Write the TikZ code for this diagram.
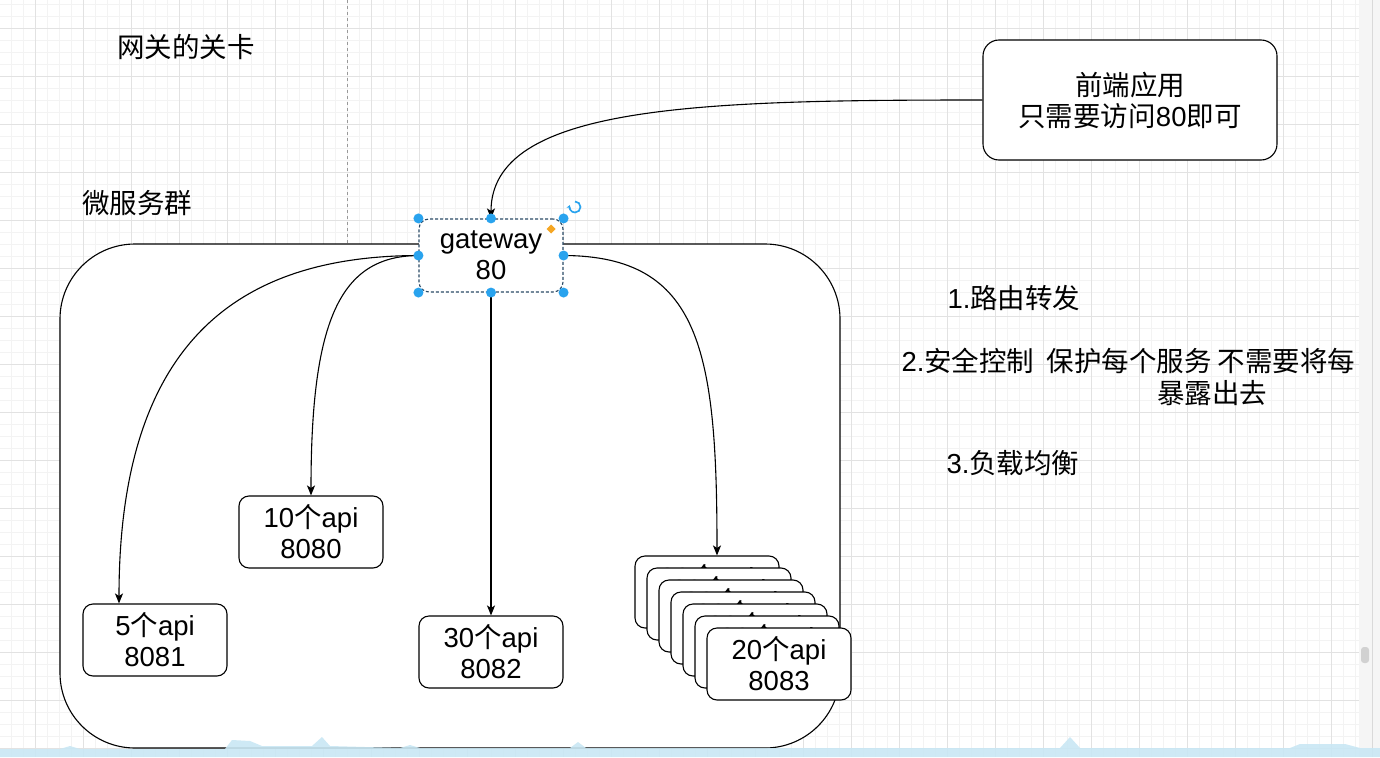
\documentclass[tikz,border=0pt]{standalone}
\usepackage{fontspec}
\setmainfont{Liberation Sans}
\newfontfamily\cjk{Noto Sans CJK SC}
\usetikzlibrary{arrows.meta}
\definecolor{gridminor}{HTML}{F3F3F3}
\definecolor{gridmajor}{HTML}{E2E2E2}
\definecolor{handle}{HTML}{29A3EE}
\definecolor{diam}{HTML}{F5A623}
\definecolor{band}{HTML}{C9E7F4}
\definecolor{selline}{HTML}{2B4A66}
\newcommand\mysize{\fontsize{27.5}{31}\selectfont}
\tikzset{
  box/.style={draw, line width=1.1pt, rounded corners=10pt, fill=white,
    minimum width=144pt, minimum height=72pt, align=center, font=\mysize, inner sep=0pt},
  lbl/.style={font=\mysize, inner sep=0pt, align=center},
  conn/.style={line width=1.1pt, -{Stealth[length=10pt,width=8pt,inset=2.5pt]}},
  hdl/.style={fill=handle, circle, inner sep=0pt, minimum size=10pt},
}
\begin{document}
\begin{tikzpicture}[x=1pt,y=-1pt]
\useasboundingbox (0,0) rectangle (1380,757);
\fill[white] (0,0) rectangle (1380,757);
% grid
\foreach \x in {11.5,23.5,...,1359} \draw[gridminor, line width=0.8pt] (\x,0) -- (\x,757);
\foreach \y in {4,16,...,757} \draw[gridminor, line width=0.8pt] (0,\y) -- (1359,\y);
\foreach \x in {35.5,83.5,...,1359} \draw[gridmajor, line width=0.8pt] (\x,0) -- (\x,757);
\foreach \y in {28,76,...,757} \draw[gridmajor, line width=0.8pt] (0,\y) -- (1359,\y);
% right strip
\fill[black!4] (1359,0) rectangle (1380,757);
\draw[black!15, line width=0.8pt] (1372,0) -- (1372,757);
\fill[black!18, rounded corners=3pt] (1361,647) rectangle (1369,663);
% page break
\draw[black!40, line width=0.8pt, dash pattern=on 3pt off 3pt] (347,0) -- (347,244);

% texts
\node[lbl] (title) at (186,47) {{\cjk 网关的关卡}};
\node[lbl] (grpname) at (137,203) {{\cjk 微服务群}};
\node[lbl] (f1) at (1014,298) {1.{\cjk 路由转发}};
\node[lbl] (f2) at (1128.5,361) {2.{\cjk 安全控制\ \ 保护每个服务 不需要将每}};
\node[lbl] (f2b) at (1212,393) {{\cjk 暴露出去}};
\node[lbl] (f3) at (1013,463) {3.{\cjk 负载均衡}};

% container
\node[draw, line width=1.1pt, fill=white, rounded corners=75pt, minimum width=780pt,
  minimum height=504pt, inner sep=0pt] (grp) at (450,496) {};

% nodes
\node[box, rounded corners=16pt, minimum width=294pt, minimum height=120pt] (fe) at (1130,100)
  {{\cjk 前端应用}\\{\cjk 只需要访问}80{\cjk 即可}};
\node[box, draw=selline, dash pattern=on 3pt off 2pt, minimum height=73pt] (gw) at (491,255.5) {gateway\\80};
\node[box] (a10) at (311,532) {10{\cjk 个}api\\8080};
\node[box] (a5) at (155,640) {5{\cjk 个}api\\8081};
\node[box] (a30) at (491,652) {30{\cjk 个}api\\8082};
\foreach \k in {0,...,6}
  \node[box] (s\k) at ({707+12*\k},{592+12*\k}) {20{\cjk 个}api\\8083};

% connectors
\draw[conn] (fe.west) .. controls (700,100) and (491,105) .. (gw.north);
\draw[conn] (gw.west) .. controls (340,256) and (311,320) .. (a10.north);
\draw[conn] (gw.west) .. controls (250,256) and (119,330) .. ([xshift=-36pt]a5.north);
\draw[conn] (gw.south) -- (a30.north);
\draw[conn] (gw.east) .. controls (700,256) and (717,350) .. ([xshift=10pt]s0.north);

% selection handles
\foreach \p in {gw.north west, gw.north, gw.north east, gw.west, gw.east, gw.south west, gw.south, gw.south east}
  \node[hdl] at (\p) {};
\fill[diam] (551,224.5) -- (555.5,229) -- (551,233.5) -- (546.5,229) -- cycle;
\draw[handle, line width=1.7pt, -{Stealth[length=3.5pt,width=4.5pt]}] (575,201.5) arc (-90:200:5.5);

% bottom band
\fill[band, opacity=0.9] (0,757) -- (0,749) -- (60,749) -- (70,746) -- (80,749) -- (225,749)
  -- (232,740) -- (250,741) -- (262,746) -- (312,746) -- (322,737) -- (330,746)
  -- (400,748) -- (410,745) -- (420,748) -- (570,748) -- (578,742) -- (586,748)
  -- (1060,748) -- (1070,737) -- (1080,748) -- (1290,748) -- (1300,744) -- (1345,744)
  -- (1360,748) -- (1380,748) -- (1380,757) -- cycle;
\end{tikzpicture}
\end{document}
